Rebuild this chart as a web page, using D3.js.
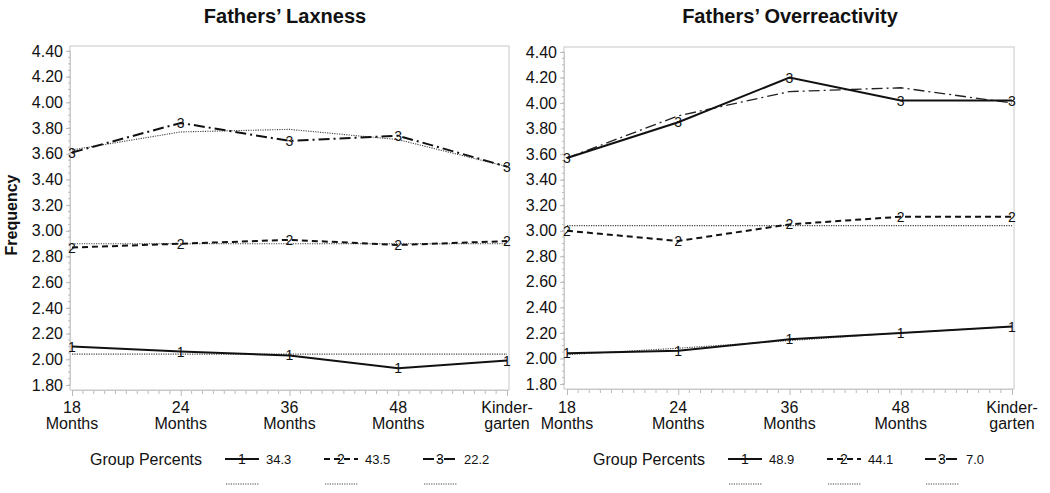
<!DOCTYPE html>
<html><head><meta charset="utf-8">
<script src="https://cdn.jsdelivr.net/npm/d3@7"></script>
<style>
body{margin:0;background:#fff;}
text{font-family:"Liberation Sans",Arial,sans-serif;fill:#111;}
</style></head>
<body><svg id="c" width="1050" height="493"></svg>
<script>
const categories = ["18|Months","24|Months","36|Months","48|Months","Kinder-|garten"];
const yTicks = [1.80,2.00,2.20,2.40,2.60,2.80,3.00,3.20,3.40,3.60,3.80,4.00,4.20,4.40];
const titles = ["Fathers\u2019 Laxness","Fathers\u2019 Overreactivity"];
const groupPercentsL = ["34.3","43.5","22.2"];
const groupPercentsR = ["48.9","44.1","7.0"];

const laxObs1 = [2.10,2.06,2.03,1.93,1.99];
const laxPred1 = [2.04,2.04,2.04,2.04,2.04];
const laxObs2 = [2.87,2.90,2.93,2.89,2.92];
const laxPred2 = [2.90,2.90,2.90,2.90,2.90];
const laxObs3 = [3.61,3.84,3.70,3.74,3.50];
const laxPred3 = [3.63,3.77,3.79,3.71,3.50];

const ovrObs1 = [2.04,2.06,2.15,2.20,2.25];
const ovrPred1 = [2.03,2.08,2.14,2.20,2.25];
const ovrObs2 = [3.00,2.92,3.05,3.11,3.11];
const ovrPred2 = [3.04,3.04,3.04,3.04,3.04];
const ovrObs3 = [3.57,3.85,4.20,4.02,4.02];
const ovrPred3 = [3.57,3.90,4.09,4.12,4.00];

const svg = d3.select("#c");
const DASH = {solid:null, dash:"6,4", dashdot:"11,4,2,4", dot:"1.2,1.2"};

function panel(cfg){
  const g = svg.append("g");
  const x = d3.scalePoint().domain(categories).range([cfg.px0,cfg.px1]);
  const y = d3.scaleLinear().domain([1.80,4.40]).range([cfg.py0,cfg.py1]);
  // frame
  g.append("rect").attr("x",cfg.fl).attr("y",cfg.ft).attr("width",cfg.fr-cfg.fl).attr("height",cfg.fb-cfg.ft)
    .attr("fill","none").attr("stroke","#c8c8c8").attr("stroke-width",1);
  // y axis minor ticks
  const minorY = d3.range(1.80,4.40001,0.05);
  g.selectAll(".my").data(minorY).join("line")
    .attr("x1",cfg.fl-2).attr("x2",cfg.fl).attr("y1",d=>y(d)).attr("y2",d=>y(d)).attr("stroke","#bbb");
  const yAxis = d3.axisLeft(y).tickValues(yTicks).tickFormat(d3.format(".2f")).tickSize(4).tickPadding(3);
  const ya = g.append("g").attr("transform",`translate(${cfg.fl},0)`).call(yAxis);
  ya.select(".domain").attr("stroke","#c8c8c8");
  ya.selectAll(".tick line").attr("stroke","#bbb");
  ya.selectAll(".tick text").attr("font-size",16).attr("fill","#111").attr("font-family","Liberation Sans, Arial");
  // x axis minor ticks
  const step = x.step();
  const minorX = [];
  for(let i=0;i<categories.length-1;i++) for(let k=1;k<10;k++) minorX.push(cfg.px0+i*step+k*step/10);
  g.selectAll(".mx").data(minorX).join("line")
    .attr("x1",d=>d).attr("x2",d=>d).attr("y1",cfg.fb).attr("y2",cfg.fb+4).attr("stroke","#bbb");
  const xAxis = d3.axisBottom(x).tickSize(6).tickFormat("");
  const xa = g.append("g").attr("transform",`translate(0,${cfg.fb})`).call(xAxis);
  xa.select(".domain").attr("stroke","#c8c8c8");
  xa.selectAll(".tick line").attr("stroke","#bbb");
  categories.forEach(c=>{
    const parts=c.split("|");
    const t=g.append("text").attr("x",x(c)).attr("y",413).attr("text-anchor","middle").attr("font-size",16);
    t.append("tspan").attr("x",x(c)).attr("dy",0).text(parts[0]);
    t.append("tspan").attr("x",x(c)).attr("dy",16).text(parts[1]);
  });
  // title
  g.append("text").attr("x",cfg.tx).attr("y",23).attr("text-anchor","middle")
    .attr("font-size",20).attr("font-weight","bold").text(cfg.title);
  // lines
  const line = d3.line().x((d,i)=>x(categories[i])).y(d=>y(d));
  cfg.series.forEach(s=>{
    g.append("path").datum(s.pred).attr("d",line).attr("fill","none")
      .attr("stroke",s.predStyle==="dot"?"#444":"#222").attr("stroke-width",s.predStyle==="dot"?1.1:1.3)
      .attr("stroke-dasharray",DASH[s.predStyle]);
  });
  cfg.series.forEach(s=>{
    g.append("path").datum(s.obs).attr("d",line).attr("fill","none")
      .attr("stroke","#111").attr("stroke-width",2).attr("stroke-dasharray",DASH[s.obsStyle]);
    g.selectAll(null).data(s.obs).join("text")
      .attr("x",(d,i)=>x(categories[i])).attr("y",d=>y(d)).attr("dy","0.36em")
      .attr("text-anchor","middle").attr("font-size",14).attr("fill","#222").text(s.label);
  });
  // legend
  g.append("text").attr("x",cfg.lgx).attr("y",465).attr("font-size",16).text("Group Percents");
  cfg.series.forEach((s,i)=>{
    const lx=cfg.leg[i];
    g.append("line").attr("x1",lx).attr("x2",lx+34).attr("y1",459).attr("y2",459)
      .attr("stroke","#111").attr("stroke-width",2).attr("stroke-dasharray",DASH[s.legStyle]);
    g.append("text").attr("x",lx+17).attr("y",459).attr("dy","0.36em").attr("text-anchor","middle")
      .attr("font-size",14).attr("fill","#222").text(s.label);
    g.append("line").attr("x1",lx+1).attr("x2",lx+34).attr("y1",484).attr("y2",484)
      .attr("stroke","#444").attr("stroke-width",1).attr("stroke-dasharray",DASH.dot);
    g.append("text").attr("x",lx+41).attr("y",464).attr("font-size",13)
      .attr("font-family","Liberation Sans Narrow, Liberation Sans, Arial").text(s.pct);
  });
}

panel({px0:72,px1:507,py0:385,py1:51,fl:70,fr:509,ft:46,fb:390,tx:285,title:titles[0],lgx:90,leg:[225,324,423],
  series:[
    {label:"1",obs:laxObs1,pred:laxPred1,obsStyle:"solid",predStyle:"dot",legStyle:"solid",pct:groupPercentsL[0]},
    {label:"2",obs:laxObs2,pred:laxPred2,obsStyle:"dash",predStyle:"dot",legStyle:"dash",pct:groupPercentsL[1]},
    {label:"3",obs:laxObs3,pred:laxPred3,obsStyle:"dashdot",predStyle:"dot",legStyle:"dashdot",pct:groupPercentsL[2]}
  ]});
panel({px0:567,px1:1012,py0:384,py1:52,fl:564,fr:1014,ft:47,fb:389,tx:790,title:titles[1],lgx:593,leg:[728,827,925],
  series:[
    {label:"1",obs:ovrObs1,pred:ovrPred1,obsStyle:"solid",predStyle:"dot",legStyle:"solid",pct:groupPercentsR[0]},
    {label:"2",obs:ovrObs2,pred:ovrPred2,obsStyle:"dash",predStyle:"dot",legStyle:"dash",pct:groupPercentsR[1]},
    {label:"3",obs:ovrObs3,pred:ovrPred3,obsStyle:"solid",predStyle:"dashdot",legStyle:"dashdot",pct:groupPercentsR[2]}
  ]});

svg.append("text").attr("transform","translate(17,215) rotate(-90)").attr("text-anchor","middle")
  .attr("font-size",16).attr("font-weight","bold").text("Frequency");
</script></body></html>
